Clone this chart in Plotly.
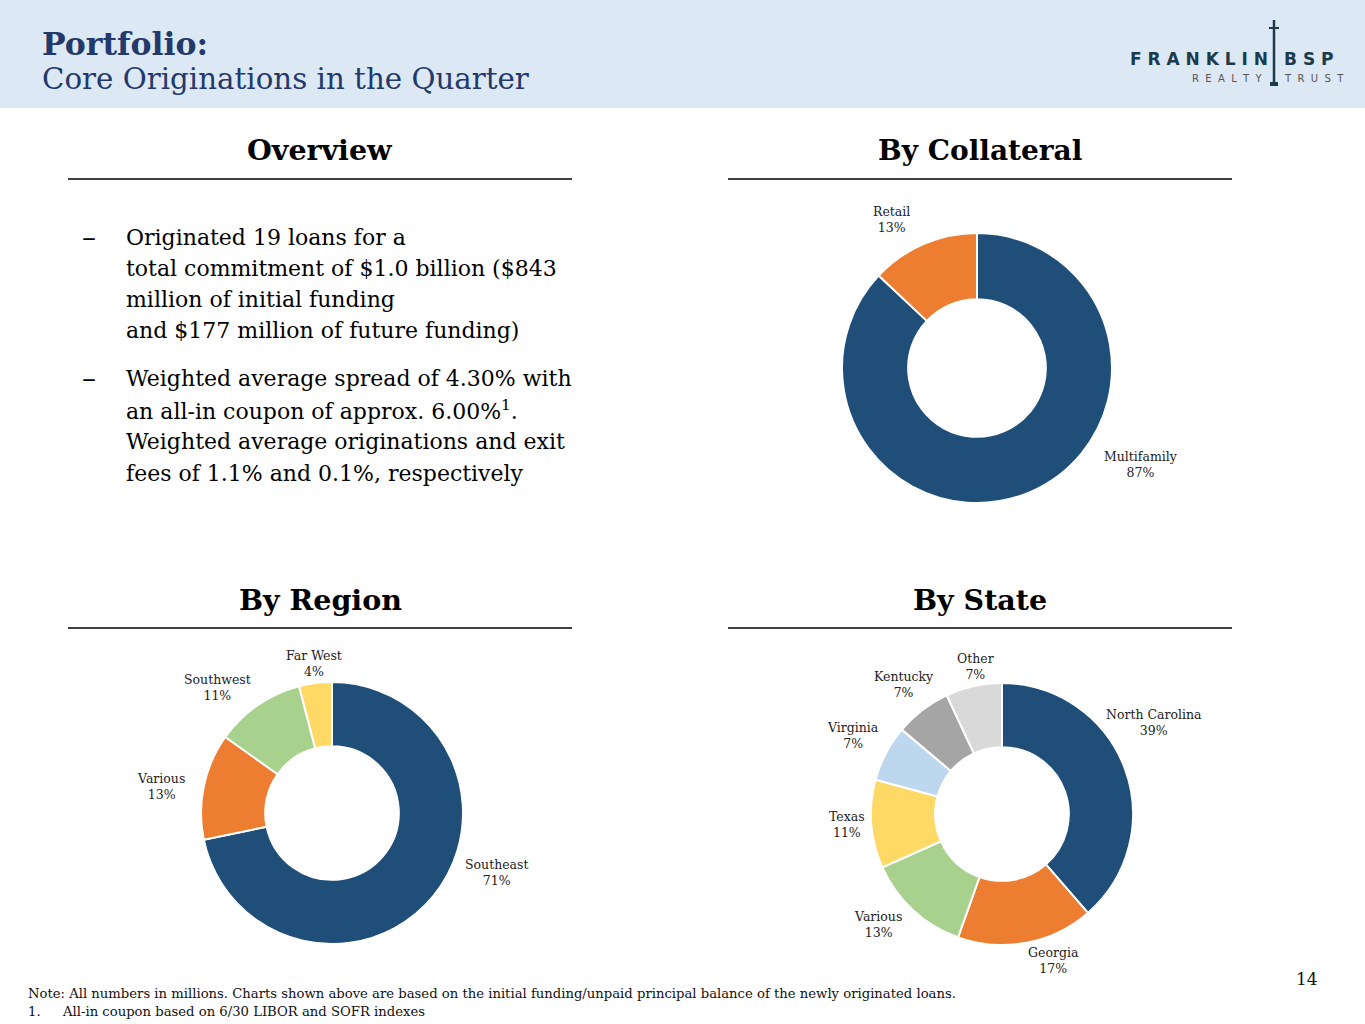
import plotly.graph_objects as go

W, H = 1365, 1024

# ---------------- data ----------------
collateral_labels = ["Multifamily", "Retail"]
collateral_values = [87, 13]

region_labels = ["Southeast", "Various", "Southwest", "Far West"]
region_values = [71, 13, 11, 4]

state_labels = ["North Carolina", "Georgia", "Various", "Texas", "Virginia", "Kentucky", "Other"]
state_values = [39, 17, 13, 11, 7, 7, 7]

bullet1 = ["Originated 19 loans for a",
           "total commitment of $1.0 billion ($843",
           "million of initial funding",
           "and $177 million of future funding)"]
bullet2 = ["Weighted average spread of 4.30% with",
           "an all-in coupon of approx. 6.00%<sup>1</sup>.",
           "Weighted average originations and exit",
           "fees of 1.1% and 0.1%, respectively"]

# ---------------- styles ----------------
C_BLUE = "#1F4E79"
C_ORANGE = "#ED7D31"
C_GREEN = "#A9D18E"
C_YELLOW = "#FFD966"
C_LBLUE = "#BDD7EE"
C_GRAY = "#A5A5A5"
C_LGRAY = "#D9D9D9"

collateral_colors = [C_BLUE, C_ORANGE]
region_colors = [C_BLUE, C_ORANGE, C_GREEN, C_YELLOW]
state_colors = [C_BLUE, C_ORANGE, C_GREEN, C_YELLOW, C_LBLUE, C_GRAY, C_LGRAY]

SERIF = "DejaVu Serif"
TITLE_COLOR = "#24396B"


def px(x):
    return x / W


def py(y):
    return 1 - y / H


def domain(cx, cy, r):
    return dict(x=[px(cx - r), px(cx + r)], y=[py(cy + r), py(cy - r)])


fig = go.Figure()


def add_donut(labels, values, colors, cx, cy, r):
    fig.add_trace(go.Pie(
        labels=labels, values=values, sort=False, direction="clockwise",
        rotation=0, hole=0.51, textinfo="none",
        marker=dict(colors=colors, line=dict(color="white", width=2)),
        domain=domain(cx, cy, r), showlegend=False, hoverinfo="label+percent",
    ))


add_donut(collateral_labels, collateral_values, collateral_colors, 977, 368, 135)
add_donut(region_labels, region_values, region_colors, 332, 813, 131)
add_donut(state_labels, state_values, state_colors, 1002, 814, 131)

ann = []


def text(x, y, s, size, color="black", family=SERIF, xanchor="left", bold=False):
    ann.append(dict(x=px(x), y=py(y), xref="paper", yref="paper", text=("<b>%s</b>" % s) if bold else s,
                    showarrow=False, xanchor=xanchor, yanchor="middle",
                    font=dict(family=family, size=size, color=color)))


# header
text(40, 43, "Portfolio:", 31.5, TITLE_COLOR, bold=True)
text(40, 79, "Core Originations in the Quarter", 29.3, TITLE_COLOR)

# logo
text(1199, 59, "F R A N K L I N", 17, "#1B3A4B", family="DejaVu Sans", xanchor="center", bold=True)
text(1309, 59, "B S P", 17, "#1B3A4B", family="DejaVu Sans", xanchor="center", bold=True)
text(1227, 78, "R  E  A  L  T  Y", 10, "#555555", family="DejaVu Sans", xanchor="center")
text(1314, 78, "T  R  U  S  T", 10, "#555555", family="DejaVu Sans", xanchor="center")

# section titles
text(320, 150, "Overview", 28.5, bold=True, xanchor="center")
text(980, 150, "By Collateral", 28, bold=True, xanchor="center")
text(320, 600, "By Region", 28.5, bold=True, xanchor="center")
text(980, 600, "By State", 28.5, bold=True, xanchor="center")

# bullets
for i, line in enumerate(bullet1):
    text(124, 237 + i * 31.3, line, 22)
for i, line in enumerate(bullet2):
    text(124, 378 + i * 31.7, line, 22)
text(80, 237, "–", 28)
text(80, 378, "–", 28)

# pie labels (label text + percent from data)
def pct_labels(labels, values, positions):
    for lab, val, (x, y) in zip(labels, values, positions):
        text(x, y, "%s<br>%d%%" % (lab, val), 12.5, "#222222", xanchor="center")


pct_labels(collateral_labels, collateral_values, [(1141, 464), (891, 219)])
pct_labels(region_labels, region_values, [(497, 872), (161, 786), (218, 687), (314, 663)])
pct_labels(state_labels, state_values,
           [(1154, 722), (1053, 960), (878, 924), (847, 824), (853, 735), (904, 684), (975, 666)])

# footer
text(26, 993, "Note: All numbers in millions. Charts shown above are based on the initial funding/unpaid principal balance of the newly originated loans.", 13.2, "#111111")
text(26, 1011, "1.", 13.2, "#111111")
text(60, 1011, "All-in coupon based on 6/30 LIBOR and SOFR indexes", 13.2, "#111111")
text(1307, 979, "14", 17, "#111111", xanchor="center")

shapes = [
    dict(type="rect", xref="paper", yref="paper", x0=0, x1=1, y0=py(108), y1=1,
         fillcolor="#DDE8F5", line=dict(width=0), layer="below"),
    dict(type="line", xref="paper", yref="paper", x0=px(68), x1=px(572), y0=py(179), y1=py(179),
         line=dict(color="black", width=1.5)),
    dict(type="line", xref="paper", yref="paper", x0=px(728), x1=px(1232), y0=py(179), y1=py(179),
         line=dict(color="black", width=1.5)),
    dict(type="line", xref="paper", yref="paper", x0=px(68), x1=px(572), y0=py(628), y1=py(628),
         line=dict(color="black", width=1.5)),
    dict(type="line", xref="paper", yref="paper", x0=px(728), x1=px(1232), y0=py(628), y1=py(628),
         line=dict(color="black", width=1.5)),
    # logo lamp post
    dict(type="line", xref="paper", yref="paper", x0=px(1274), x1=px(1274), y0=py(86), y1=py(20),
         line=dict(color="#1B3A4B", width=2.5)),
    dict(type="line", xref="paper", yref="paper", x0=px(1269), x1=px(1279), y0=py(28), y1=py(28),
         line=dict(color="#1B3A4B", width=2)),
    dict(type="line", xref="paper", yref="paper", x0=px(1270), x1=px(1278), y0=py(84), y1=py(84),
         line=dict(color="#1B3A4B", width=4)),
]

fig.update_layout(
    width=W, height=H, margin=dict(l=0, r=0, t=0, b=0),
    paper_bgcolor="white", plot_bgcolor="white",
    annotations=ann, shapes=shapes,
)

fig.write_html("out.html", config={"displayModeBar": False},
               post_script="document.body.style.margin='0px';")
